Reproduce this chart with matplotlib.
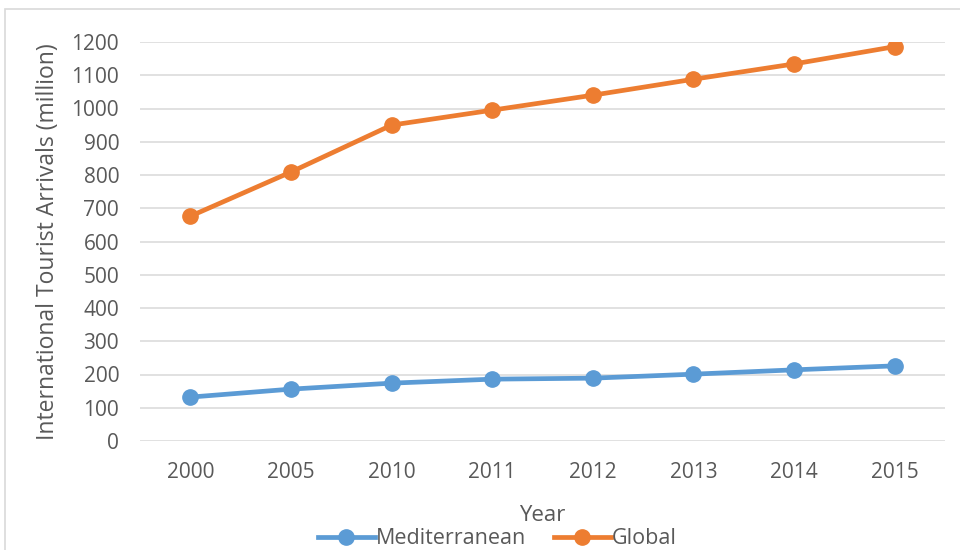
import matplotlib.pyplot as plt
from matplotlib.patches import Rectangle

years = ['2000', '2005', '2010', '2011', '2012', '2013', '2014', '2015']
mediterranean = [132, 156, 174, 186, 189, 201, 214, 226]
global_arrivals = [676, 809, 950, 995, 1040, 1088, 1134, 1186]

plt.rcParams['font.family'] = ['Open Sans', 'DejaVu Sans']
text_color = '#595959'

fig = plt.figure(figsize=(9.6, 5.5), dpi=100)
ax = fig.add_axes([140 / 960, 1 - 441 / 550, 805 / 960, 399 / 550])

# chart frame (partly outside the picture)
fig.patches.append(Rectangle((5 / 960, -0.1), 1.2, 1 - 9 / 550 + 0.1,
                             transform=fig.transFigure, fill=False,
                             edgecolor='#D9D9D9', linewidth=1.2))

x = range(len(years))
ax.plot(x, mediterranean, color='#5B9BD5', linewidth=3.4, marker='o',
        markersize=11, label='Mediterranean', zorder=3)
ax.plot(x, global_arrivals, color='#ED7D31', linewidth=3.4, marker='o',
        markersize=11, label='Global', zorder=3)

ax.set_xlim(-0.5, len(years) - 0.5)
ax.set_ylim(0, 1200)
ax.set_yticks(range(0, 1201, 100))
ax.set_xticks(list(x))
ax.set_xticklabels(years)
ax.grid(axis='y', color='#D9D9D9', linewidth=1.1)
ax.set_axisbelow(True)
for s in ax.spines.values():
    s.set_visible(False)
ax.tick_params(axis='both', length=0, labelsize=15, colors=text_color)
ax.tick_params(axis='y', pad=15)
ax.tick_params(axis='x', pad=15)

ax.set_xlabel('Year', fontsize=16, color=text_color, labelpad=16)
ax.set_ylabel('International Tourist Arrivals (million)', fontsize=16.5,
              color=text_color, labelpad=8)

fig.legend(loc='center', bbox_to_anchor=(0.518, 1 - 539 / 550), ncol=2,
           frameon=False, fontsize=15.5, handlelength=2.65, handletextpad=0.05,
           columnspacing=1.3, labelcolor=text_color, borderpad=0)

fig.savefig('out.png', dpi=100)
